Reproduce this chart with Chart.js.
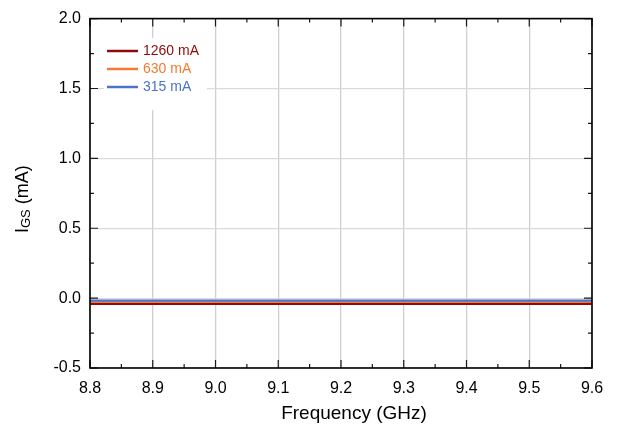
<!DOCTYPE html>
<html>
<head>
<meta charset="utf-8">
<script src="https://cdn.jsdelivr.net/npm/chart.js@4"></script>
<style>
  html, body { margin: 0; padding: 0; background: #fff; }
</style>
</head>
<body>
<canvas id="myChart" width="624" height="432"></canvas>
<script>
'use strict';

// gate current vs frequency for three drain currents
let freqs = [8.8, 8.9, 9.0, 9.1, 9.2, 9.3, 9.4, 9.5, 9.6];
let seriesNames = ['1260 mA', '630 mA', '315 mA'];
let igs1260 = [-0.042, -0.042, -0.042, -0.042, -0.042, -0.042, -0.042, -0.042, -0.042];
let igs630 = [-0.030, -0.030, -0.030, -0.030, -0.030, -0.030, -0.030, -0.030, -0.030];
let igs315 = [-0.018, -0.018, -0.018, -0.018, -0.018, -0.018, -0.018, -0.018, -0.018];
let xTicks = [8.8, 8.9, 9.0, 9.1, 9.2, 9.3, 9.4, 9.5, 9.6];
let yTicks = [-0.5, 0.0, 0.5, 1.0, 1.5, 2.0];

let colors = ['#8c0c0c', '#f27b30', '#4a73c9'];
let fontFamily = "'Liberation Sans', Arial, sans-serif";

function toPoints(ys){
  return freqs.map(function(f, i){ return {x: f, y: ys[i]}; });
}

// frame, inward ticks, axis titles and the legend box
let decorations = {
  id: 'decorations',
  afterDatasetsDraw(chart){
    let ctx = chart.ctx;
    let a = chart.chartArea;
    let xs = chart.scales.x;
    let ys = chart.scales.y;
    ctx.save();

    ctx.strokeStyle = '#1a1a1a';
    ctx.lineWidth = 1.2;
    ctx.beginPath();
    for (let i = 0; i < xTicks.length; i++){
      let px = xs.getPixelForValue(xTicks[i]);
      ctx.moveTo(px, a.bottom); ctx.lineTo(px, a.bottom - 8);
      ctx.moveTo(px, a.top); ctx.lineTo(px, a.top + 8);
      if (i < xTicks.length - 1){
        let mx = xs.getPixelForValue((xTicks[i] + xTicks[i + 1]) / 2);
        ctx.moveTo(mx, a.bottom); ctx.lineTo(mx, a.bottom - 4);
        ctx.moveTo(mx, a.top); ctx.lineTo(mx, a.top + 4);
      }
    }
    for (let j = 0; j < yTicks.length; j++){
      let py = ys.getPixelForValue(yTicks[j]);
      ctx.moveTo(a.left, py); ctx.lineTo(a.left + 8, py);
      ctx.moveTo(a.right, py); ctx.lineTo(a.right - 8, py);
      if (j < yTicks.length - 1){
        let my = ys.getPixelForValue((yTicks[j] + yTicks[j + 1]) / 2);
        ctx.moveTo(a.left, my); ctx.lineTo(a.left + 4, my);
        ctx.moveTo(a.right, my); ctx.lineTo(a.right - 4, my);
      }
    }
    ctx.stroke();

    ctx.strokeStyle = '#000';
    ctx.lineWidth = 1.6;
    ctx.strokeRect(a.left, a.top, a.right - a.left, a.bottom - a.top);

    // legend
    ctx.fillStyle = '#fff';
    ctx.fillRect(104, 38, 103, 72);
    ctx.font = '14px ' + fontFamily;
    ctx.textBaseline = 'middle';
    ctx.textAlign = 'left';
    for (let k = 0; k < seriesNames.length; k++){
      let ly = 51 + k * 18;
      ctx.strokeStyle = colors[k];
      ctx.lineWidth = 2.5;
      ctx.beginPath();
      ctx.moveTo(107, ly); ctx.lineTo(138, ly);
      ctx.stroke();
      ctx.fillStyle = colors[k];
      ctx.fillText(seriesNames[k], 143, ly + 0.5);
    }

    // x axis title
    ctx.fillStyle = '#000';
    ctx.font = '19px ' + fontFamily;
    ctx.textAlign = 'center';
    ctx.fillText('Frequency (GHz)', 354, 414);

    // y axis title: I_GS (mA)
    ctx.textAlign = 'left';
    ctx.translate(28, 233);
    ctx.rotate(-Math.PI / 2);
    ctx.textBaseline = 'alphabetic';
    ctx.font = '18px ' + fontFamily;
    ctx.fillText('I', 0, 0);
    let w = ctx.measureText('I').width;
    ctx.font = '13px ' + fontFamily;
    ctx.fillText('GS', w, 2);
    w += ctx.measureText('GS').width;
    ctx.font = '18px ' + fontFamily;
    ctx.fillText(' (mA)', w, 0);

    ctx.restore();
  }
};

let ctx = document.getElementById('myChart').getContext('2d');
let chart = new Chart(ctx, {
  type: 'line',
  data: {
    datasets: [{
      label: seriesNames[0],
      data: toPoints(igs1260),
      borderColor: colors[0],
      borderWidth: 2.2,
      order: 1
    }, {
      label: seriesNames[1],
      data: toPoints(igs630),
      borderColor: colors[1],
      borderWidth: 2.2,
      order: 2
    }, {
      label: seriesNames[2],
      data: toPoints(igs315),
      borderColor: colors[2],
      borderWidth: 2.2,
      order: 0
    }]
  },
  options: {
    responsive: false,
    animation: false,
    devicePixelRatio: 1,
    layout: { padding: { left: 0, right: 32, top: 18, bottom: 0 } },
    elements: { point: { radius: 0 }, line: { tension: 0 } },
    plugins: { legend: { display: false }, tooltip: { enabled: false } },
    scales: {
      x: {
        type: 'linear',
        min: 8.8,
        max: 9.6,
        afterBuildTicks: function(s){ s.ticks = xTicks.map(function(v){ return {value: v}; }); },
        afterFit: function(s){ s.height = 64; },
        grid: { color: '#cfcfcf', lineWidth: 1.3, drawTicks: false },
        border: { display: false },
        ticks: {
          color: '#000',
          padding: 11,
          maxRotation: 0,
          font: { family: fontFamily, size: 16 },
          callback: function(v){ return Number(v).toFixed(1); }
        }
      },
      y: {
        min: -0.5,
        max: 2.0,
        afterBuildTicks: function(s){ s.ticks = yTicks.map(function(v){ return {value: v}; }); },
        afterFit: function(s){ s.width = 90; },
        grid: { color: '#dadada', lineWidth: 1.2, drawTicks: false },
        border: { display: false },
        ticks: {
          color: '#000',
          padding: 9,
          font: { family: fontFamily, size: 16 },
          callback: function(v){ return Number(v).toFixed(1); }
        }
      }
    }
  },
  plugins: [decorations]
});
</script>
</body>
</html>
